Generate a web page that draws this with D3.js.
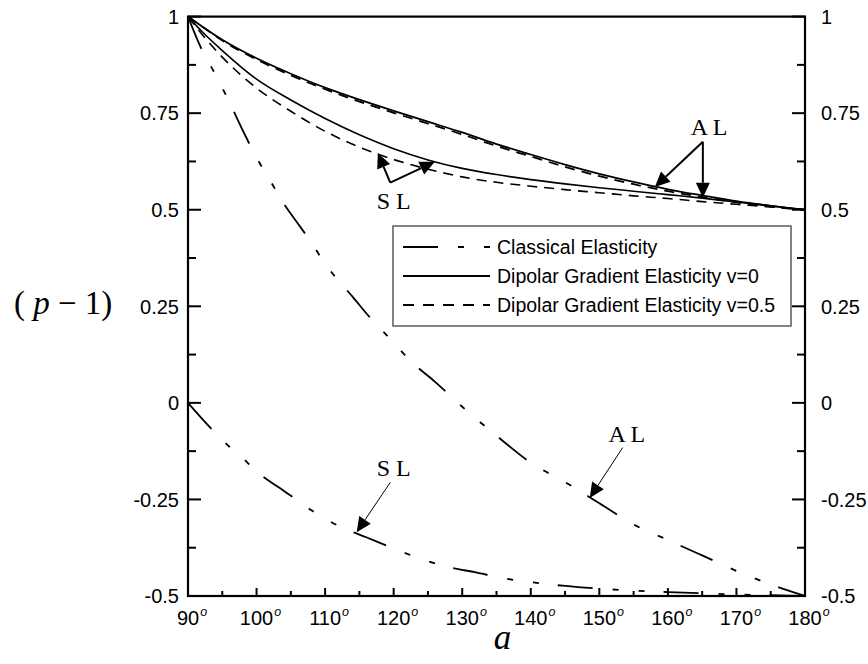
<!DOCTYPE html>
<html>
<head>
<meta charset="utf-8">
<script src="https://cdn.jsdelivr.net/npm/d3@7"></script>
<style>
  body { margin: 0; background: #fff; }
</style>
</head>
<body>
<div id="chart"></div>
<script>
// values (angle in degrees, p-1)
var dipolarAngles = [90, 92, 95, 100, 105, 110, 115, 120, 125, 130, 135, 140, 145, 150, 155, 160, 165, 170, 175, 180];
var dipolarAL0 = [1.0, 0.975, 0.94, 0.892, 0.852, 0.816, 0.785, 0.756, 0.728, 0.700, 0.670, 0.643, 0.617, 0.593, 0.572, 0.553, 0.537, 0.522, 0.510, 0.5];
var dipolarAL05 = [1.0, 0.975, 0.938, 0.889, 0.848, 0.812, 0.780, 0.751, 0.723, 0.695, 0.665, 0.638, 0.611, 0.587, 0.566, 0.548, 0.533, 0.519, 0.508, 0.5];
var dipolarSL0 = [1.0, 0.962, 0.912, 0.838, 0.784, 0.736, 0.694, 0.658, 0.629, 0.607, 0.591, 0.578, 0.567, 0.557, 0.548, 0.539, 0.530, 0.520, 0.510, 0.5];
var dipolarSL05 = [1.0, 0.955, 0.895, 0.815, 0.755, 0.703, 0.662, 0.630, 0.605, 0.585, 0.571, 0.561, 0.552, 0.544, 0.536, 0.529, 0.521, 0.514, 0.507, 0.5];

var classicalALAngles = [90, 92, 94, 96, 98, 100, 102, 104, 106, 108, 110, 112, 114, 116, 118, 120, 123, 126, 130, 135, 140, 145, 150, 155, 160, 165, 170, 175, 180];
var classicalAL = [1.0, 0.915, 0.85, 0.78, 0.705, 0.635, 0.575, 0.515, 0.465, 0.415, 0.36, 0.315, 0.275, 0.232, 0.194, 0.155, 0.10, 0.055, -0.01, -0.085, -0.155, -0.205, -0.26, -0.315, -0.355, -0.395, -0.435, -0.47, -0.5];

var classicalSLAngles = [90, 92, 94, 96, 98, 100, 102, 104, 106, 108, 110, 113, 116, 120, 124, 128, 132, 136, 140, 145, 150, 155, 160, 165, 170, 175, 180];
var classicalSL = [0, -0.04, -0.078, -0.113, -0.143, -0.178, -0.204, -0.228, -0.253, -0.278, -0.3, -0.327, -0.348, -0.377, -0.404, -0.425, -0.439, -0.454, -0.464, -0.474, -0.481, -0.486, -0.49, -0.493, -0.496, -0.498, -0.5];

var xTicks = [90, 100, 110, 120, 130, 140, 150, 160, 170, 180];
var yTicks = [-0.5, -0.25, 0, 0.25, 0.5, 0.75, 1];
var yTickLabels = ["-0.5", "-0.25", "0", "0.25", "0.5", "0.75", "1"];
var legendLabels = ["Classical Elasticity", "Dipolar Gradient Elasticity v=0", "Dipolar Gradient Elasticity v=0.5"];

//constants
var width = 868;
var height = 664;
var plotLeft = 188, plotRight = 805, plotTop = 16.6, plotBottom = 596;
var sans = "'Liberation Sans', Arial, sans-serif";
var serif = "'Liberation Serif', 'Times New Roman', serif";
var dashClassical = "35,20,6,20,6,19";
var dashDipolar = "10,7";

var svg = d3.select("#chart")
  .append("svg")
  .attr("width", width)
  .attr("height", height);

var x = d3.scaleLinear().domain([90, 180]).range([plotLeft, plotRight]);
var y = d3.scaleLinear().domain([-0.5, 1]).range([plotBottom, plotTop]);

var line = d3.line()
  .x(function(d) { return x(d[0]); })
  .y(function(d) { return y(d[1]); })
  .curve(d3.curveMonotoneX);

function pairs(a, v) {
  return a.map(function(d, i) { return [d, v[i]]; });
}

var series = [
  {data: pairs(classicalALAngles, classicalAL), dash: dashClassical, w: 1.8},
  {data: pairs(classicalSLAngles, classicalSL), dash: dashClassical, w: 1.8},
  {data: pairs(dipolarAngles, dipolarAL0), dash: null, w: 1.8},
  {data: pairs(dipolarAngles, dipolarAL05), dash: dashDipolar, w: 1.8},
  {data: pairs(dipolarAngles, dipolarSL0), dash: null, w: 1.6},
  {data: pairs(dipolarAngles, dipolarSL05), dash: dashDipolar, w: 1.6}
];

svg.selectAll("path.curve")
  .data(series)
  .enter()
  .append("path")
  .attr("class", "curve")
  .attr("d", function(d) { return line(d.data); })
  .attr("fill", "none")
  .attr("stroke", "#000")
  .attr("stroke-width", function(d) { return d.w; })
  .attr("stroke-dasharray", function(d) { return d.dash; });

//ticks, pointing inward
var yMinor = d3.range(-0.5, 1.001, 0.125);
yMinor.forEach(function(t) {
  var major = Math.abs(t * 4 - Math.round(t * 4)) < 1e-6;
  var len = major ? 13 : 8;
  svg.append("line").attr("x1", plotLeft).attr("x2", plotLeft + len)
    .attr("y1", y(t)).attr("y2", y(t)).attr("stroke", "#000").attr("stroke-width", 2);
  svg.append("line").attr("x1", plotRight).attr("x2", plotRight - len)
    .attr("y1", y(t)).attr("y2", y(t)).attr("stroke", "#000").attr("stroke-width", 2);
});

d3.range(90, 181, 5).forEach(function(t) {
  var len = t % 10 == 0 ? 8 : 5;
  svg.append("line").attr("x1", x(t)).attr("x2", x(t))
    .attr("y1", plotBottom).attr("y2", plotBottom - len).attr("stroke", "#000").attr("stroke-width", 2);
});

//frame
svg.append("rect")
  .attr("x", plotLeft).attr("y", plotTop)
  .attr("width", plotRight - plotLeft).attr("height", plotBottom - plotTop)
  .attr("fill", "none").attr("stroke", "#000").attr("stroke-width", 2.2);

//y tick labels both sides
yTicks.forEach(function(t, i) {
  svg.append("text").attr("x", plotLeft - 9).attr("y", y(t)).attr("dy", "0.36em")
    .attr("text-anchor", "end").style("font-family", sans).style("font-size", "20px")
    .text(yTickLabels[i]);
  svg.append("text").attr("x", plotRight + 16).attr("y", y(t)).attr("dy", "0.36em")
    .attr("text-anchor", "start").style("font-family", sans).style("font-size", "20px")
    .text(yTickLabels[i]);
});

//x tick labels with degree superscript
xTicks.forEach(function(t) {
  var lab = svg.append("text").attr("x", x(t)).attr("y", 625)
    .attr("text-anchor", "middle").style("font-family", sans).style("font-size", "20px")
    .text(t);
  var w = lab.node().getComputedTextLength();
  svg.append("text").attr("x", x(t) + w / 2 + 1).attr("y", 616)
    .style("font-family", sans).style("font-size", "12.5px").style("font-style", "italic")
    .text("o");
});

//axis titles
var ylab = svg.append("text").attr("x", 14).attr("y", 314)
  .style("font-family", serif).style("font-size", "33px");
ylab.append("tspan").text("( ");
ylab.append("tspan").style("font-style", "italic").text("p");
ylab.append("tspan").text(" \u2212 1)");

svg.append("text").attr("x", (plotLeft + plotRight) / 2 + 6).attr("y", 649)
  .attr("text-anchor", "middle").style("font-family", serif)
  .style("font-size", "35px").style("font-style", "italic")
  .text("a");

//legend
var lg = svg.append("g");
lg.append("rect").attr("x", 393).attr("y", 226).attr("width", 398).attr("height", 100)
  .attr("fill", "#fff").attr("stroke", "#333").attr("stroke-width", 1.2);
var legendDash = [dashClassical, null, "11,9"];
legendLabels.forEach(function(l, i) {
  var ly = 247 + i * 29;
  lg.append("line").attr("x1", 403).attr("x2", 490).attr("y1", ly).attr("y2", ly)
    .attr("stroke", "#000").attr("stroke-width", 1.8).attr("stroke-dasharray", legendDash[i]);
  lg.append("text").attr("x", 497).attr("y", ly).attr("dy", "0.36em")
    .style("font-family", sans).style("font-size", "19.5px").text(l);
});

//annotations in data coordinates
var notes = [
  {label: "S L", at: [120, 0.502], from: [119.5, 0.570], tips: [[117.7, 0.647], [126, 0.624]], w: 2},
  {label: "A L", at: [166, 0.694], from: [165.1, 0.676], tips: [[158.1, 0.559], [165.1, 0.531]], w: 2},
  {label: "A L", at: [154, -0.1025], from: [153.4, -0.116], tips: [[148.6, -0.246]], w: 1},
  {label: "S L", at: [120, -0.19], from: [119.5, -0.206], tips: [[114.6, -0.335]], w: 1}
];

notes.forEach(function(n) {
  svg.append("text").attr("x", x(n.at[0])).attr("y", y(n.at[1]))
    .attr("text-anchor", "middle").style("font-family", serif).style("font-size", "24px")
    .text(n.label);
  n.tips.forEach(function(t) {
    var x0 = x(n.from[0]), y0 = y(n.from[1]), x1 = x(t[0]), y1 = y(t[1]);
    var ang = Math.atan2(y1 - y0, x1 - x0);
    var hl = 15, hw = 7;
    var bx = x1 - hl * Math.cos(ang), by = y1 - hl * Math.sin(ang);
    svg.append("line").attr("x1", x0).attr("y1", y0).attr("x2", bx).attr("y2", by)
      .attr("stroke", "#000").attr("stroke-width", n.w);
    var pts = [
      [x1, y1],
      [bx + hw * Math.sin(ang), by - hw * Math.cos(ang)],
      [bx - hw * Math.sin(ang), by + hw * Math.cos(ang)]
    ];
    svg.append("polygon").attr("points", pts.map(function(p) { return p.join(","); }).join(" "))
      .attr("fill", "#000");
  });
});
</script>
</body>
</html>
